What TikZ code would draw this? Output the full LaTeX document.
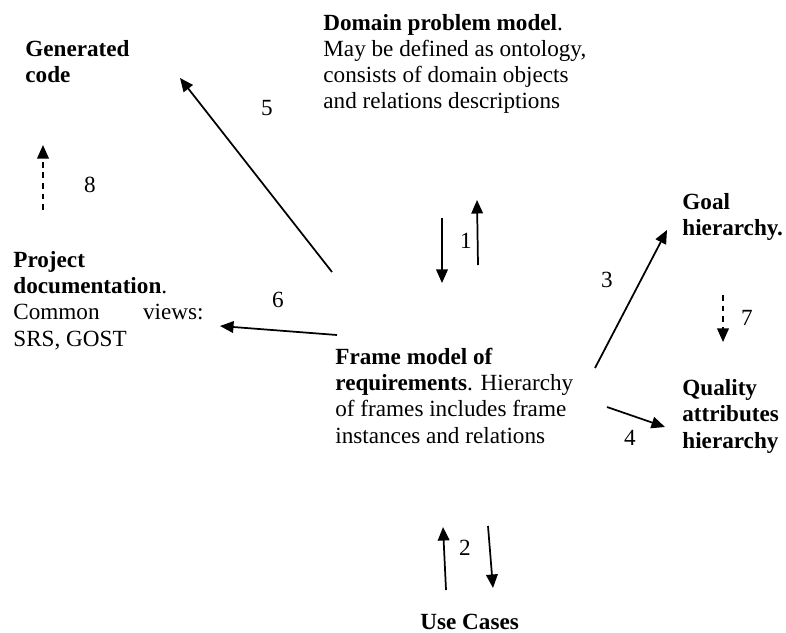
\documentclass[tikz,border=0pt]{standalone}
\usepackage{fontspec}
\setmainfont{Liberation Serif}
\usetikzlibrary{arrows.meta}

\begin{document}
\begin{tikzpicture}[x=0.518pt, y=-0.518pt,
    every node/.style={font=\fontsize{12}{13.5}\selectfont, inner sep=0pt},
    blk/.style={anchor=base west, align=left},
    num/.style={anchor=center},
    arr/.style={-{Triangle[length=7pt, width=6pt]}, line width=0.9pt},
    darr/.style={arr, dash pattern=on 3pt off 2.5pt}]
  \useasboundingbox (0, 0) rectangle (786, 633);

  \node[blk] (dom) at (323, 109) {\textbf{Domain problem model}.\\
    May be defined as ontology,\\ consists of domain objects\\
    and relations descriptions};
  \node[blk] (gen) at (25, 83) {\textbf{Generated}\\ \textbf{code}};
  \node[blk] (doc) at (13, 346) {\textbf{Project}\\ \textbf{documentation}.\\
    \makebox[98.5pt][s]{Common\hfill views:}\\ SRS, GOST};
  \node[blk] (frm) at (335, 443) {\textbf{Frame model of}\\
    \textbf{requirements}. Hierarchy\\ of frames includes frame\\
    instances and relations};
  \node[blk] (goal) at (682, 236) {\textbf{Goal}\\ \textbf{hierarchy.}};
  \node[blk] (qual) at (682, 448) {\textbf{Quality}\\ \textbf{attributes}\\
    \textbf{hierarchy}};
  \node[blk] (uc) at (420, 629) {\textbf{Use Cases}};

  \node[num] (n1) at (466, 241) {1};
  \node[num] (n2) at (465, 548) {2};
  \node[num] (n3) at (607, 280) {3};
  \node[num] (n4) at (630, 438) {4};
  \node[num] (n5) at (267, 108) {5};
  \node[num] (n6) at (278, 300) {6};
  \node[num] (n7) at (747, 318) {7};
  \node[num] (n8) at (90, 185) {8};

  \coordinate (d1a) at (442, 218);
  \coordinate (d1b) at (442, 283);
  \coordinate (u1a) at (478, 265);
  \coordinate (u1b) at (477, 200);
  \coordinate (u2a) at (446, 590);
  \coordinate (u2b) at (443, 527);
  \coordinate (d2a) at (488, 526);
  \coordinate (d2b) at (493, 588);
  \coordinate (g3a) at (595, 368);
  \coordinate (g3b) at (667, 230);
  \coordinate (q4a) at (607, 407);
  \coordinate (q4b) at (665, 427);
  \coordinate (c5a) at (332, 272);
  \coordinate (c5b) at (180, 78);
  \coordinate (p6a) at (337, 335);
  \coordinate (p6b) at (220, 326);
  \coordinate (h7a) at (723, 295);
  \coordinate (h7b) at (723, 342);
  \coordinate (v8a) at (43, 210);
  \coordinate (v8b) at (43, 145);

  \draw[arr] (d1a) -- (d1b);
  \draw[arr] (u1a) -- (u1b);
  \draw[arr] (u2a) -- (u2b);
  \draw[arr] (d2a) -- (d2b);
  \draw[arr] (g3a) -- (g3b);
  \draw[arr] (q4a) -- (q4b);
  \draw[arr] (c5a) -- (c5b);
  \draw[arr] (p6a) -- (p6b);
  \draw[darr] (h7a) -- (h7b);
  \draw[darr] (v8a) -- (v8b);
\end{tikzpicture}
\end{document}
